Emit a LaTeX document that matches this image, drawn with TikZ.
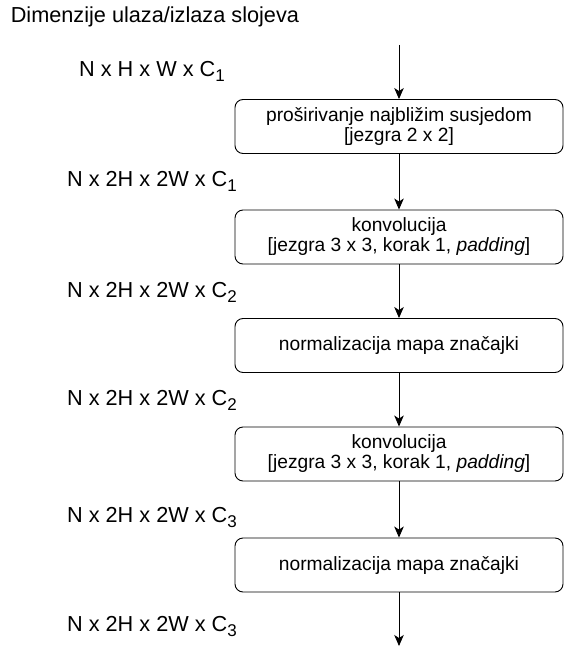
\documentclass[tikz,border=0pt]{standalone}
\usepackage{fontspec}
\setmainfont{Liberation Sans}
\usetikzlibrary{arrows.meta}
\newcommand\chidx[1]{\raisebox{-5pt}{\fontsize{17}{17}\selectfont #1}}
\begin{document}
\begin{tikzpicture}[x=1pt,y=-1pt,line width=.9pt,
	layer/.style={draw,rounded corners=8pt,minimum width=328pt,minimum height=54pt,inner sep=0pt,align=center,font=\fontsize{19.2}{20}\selectfont},
	dim/.style={anchor=base,font=\fontsize{21.7}{26}\selectfont},
	flow/.style={-{Stealth[length=11pt,width=9.5pt,inset=3pt]}}]
	
	\def\xa{399}
	\useasboundingbox (0,0) rectangle (576,669);
	\node[dim,anchor=base west] (title) at (7,23) {Dimenzije ulaza/izlaza slojeva};
	\coordinate (in) at (\xa,45);
	\node[layer] (upsample) at (\xa,126.5) {proširivanje najbližim susjedom\\{}[jezgra 2 x 2]};
	\node[layer] (convA) at (\xa,237) {konvolucija\\{}[jezgra 3 x 3, korak 1, \textit{padding}]};
	\node[layer] (normA) at (\xa,345.5) {normalizacija mapa značajki};
	\node[layer] (convB) at (\xa,454) {konvolucija\\{}[jezgra 3 x 3, korak 1, \textit{padding}]};
	\node[layer] (normB) at (\xa,565) {normalizacija mapa značajki};
	\coordinate (out) at (\xa,646);
	\foreach \a/\b in {in/upsample,upsample/convA,convA/normA,normA/convB,convB/normB,normB/out}
		\draw[flow] (\a)--(\b);
	\node[dim] (d0) at (152,77) {N x H x W x C\chidx{1}};
	\node[dim] (d1) at (152,186) {N x 2H x 2W x C\chidx{1}};
	\node[dim] (d2) at (152,297) {N x 2H x 2W x C\chidx{2}};
	\node[dim] (d3) at (152,405) {N x 2H x 2W x C\chidx{2}};
	\node[dim] (d4) at (152,522) {N x 2H x 2W x C\chidx{3}};
	\node[dim] (d5) at (152,631) {N x 2H x 2W x C\chidx{3}};
	
\end{tikzpicture}
\end{document}
